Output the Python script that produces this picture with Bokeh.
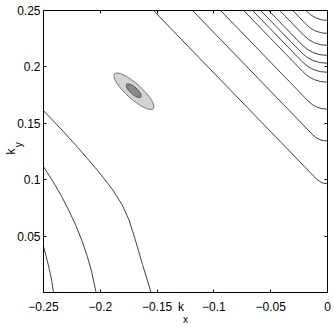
from bokeh.plotting import figure
from bokeh.models import Range1d, FixedTicker, LinearAxis
from bokeh.embed import file_html
from bokeh.resources import INLINE

# ---------------- data ----------------
x_ticks = [-0.25, -0.2, -0.15, -0.1, -0.05, 0.0]
x_tick_labels = ["\u22120.25", "\u22120.2", "\u22120.15", "\u22120.1", "\u22120.05", "0"]
y_ticks = [0.05, 0.1, 0.15, 0.2, 0.25]
y_tick_labels = ["0.05", "0.1", "0.15", "0.2", "0.25"]

# axis label texts and where they sit along their axes
x_label_main, x_label_sub = "k", "x"
y_label_main, y_label_sub = "k", "y"
x_label_pos = -0.1290
y_label_sub_pos = 0.1310

# contour lines in the lower-left part
left_xs = [
    [-0.25, -0.2476, -0.2450, -0.2428, -0.2412],
    [-0.25, -0.2416, -0.2340, -0.2272, -0.2212, -0.2159, -0.2115, -0.2077, -0.2037],
    [-0.25, -0.2337, -0.2178, -0.2028, -0.1890, -0.1808, -0.1748, -0.1692, -0.1628, -0.1553],
]
left_ys = [
    [0.0409, 0.0318, 0.0212, 0.0106, 0.0],
    [0.1116, 0.0983, 0.0851, 0.0718, 0.0586, 0.0453, 0.0321, 0.0188, 0.0],
    [0.1612, 0.1440, 0.1263, 0.1087, 0.0910, 0.0777, 0.0645, 0.0468, 0.0247, 0.0],
]

# contour lines in the upper-right part: where each leaves the top edge,
# where its straight run starts to bend, the bend corner, and where it meets the right edge
right_top_x = [-0.1532, -0.1188, -0.0941, -0.0738, -0.0659, -0.0588, -0.0518, -0.0421, -0.0306, -0.0191]
right_bend_x = [-0.0095, -0.0130, -0.0172, -0.0216, -0.0226, -0.0235, -0.0230, -0.0209, -0.0188, -0.0191]
right_bend_y = [0.1004, 0.1398, 0.1699, 0.1957, 0.2049, 0.2132, 0.2201, 0.2280, 0.2377, 0.25]
right_corner_x = [-0.0056, -0.0077, -0.0101, -0.0128, -0.0133, -0.0139, -0.0136, -0.0124, -0.0111, -0.0107]
right_edge_y = [0.0963, 0.1343, 0.1625, 0.1864, 0.1952, 0.2032, 0.2102, 0.2191, 0.2297, 0.2412]

# shaded peak region (outer and inner level)
peak_x = [-0.1704, -0.1706]
peak_y = [0.1784, 0.1789]
peak_w = [0.0459, 0.0168]
peak_h = [0.0133, 0.0062]
peak_angle = [-0.73, -0.73]

# ---------------- figure ----------------
FONT = "Liberation Sans"

p = figure(width=334, height=327,
           x_range=Range1d(x_ticks[0], x_ticks[-1]), y_range=Range1d(0.0, y_ticks[-1]),
           output_backend="svg", toolbar_location=None,
           min_border_left=43, min_border_right=7, min_border_top=10, min_border_bottom=34,
           background_fill_color="white", border_fill_color="white")
p.grid.visible = False
p.outline_line_color = "black"
p.outline_line_width = 1


def ticks_in(ax):
    ax.major_tick_in = 3
    ax.major_tick_out = 0
    ax.minor_tick_line_color = None
    ax.axis_line_color = "black"
    ax.major_tick_line_color = "black"


def no_labels(ax):
    ax.major_label_text_font_size = "0px"
    ax.major_label_text_color = None
    ax.major_label_standoff = 0


def label_style(ax, size="12px"):
    ax.major_label_text_font = FONT
    ax.major_label_text_font_size = size
    ax.major_label_text_color = "black"


def axis_label_style(ax, text, size):
    ax.axis_label = text
    ax.axis_label_text_font = FONT
    ax.axis_label_text_font_size = size
    ax.axis_label_text_font_style = "normal"
    ax.axis_label_text_color = "black"


# bottom axis: ticks, numbers and the subscript "x" as its label
xa = p.xaxis[0]
xa.ticker = FixedTicker(ticks=x_ticks)
xa.major_label_overrides = dict(zip(x_ticks, x_tick_labels))
ticks_in(xa)
label_style(xa)
xa.major_label_standoff = 9
axis_label_style(xa, x_label_sub, "10px")
xa.axis_label_standoff = 0

# bottom: "k" pulled up to the level of the numbers
xk = LinearAxis(ticker=FixedTicker(ticks=[x_label_pos]),
                major_label_overrides={x_label_pos: x_label_main})
label_style(xk)
xk.major_tick_line_color = None
xk.minor_tick_line_color = None
xk.axis_line_color = None
xk.major_label_standoff = -34
p.add_layout(xk, "below")

# left axis: ticks and numbers
ya = p.yaxis[0]
ya.ticker = FixedTicker(ticks=y_ticks)
ya.major_label_overrides = dict(zip(y_ticks, y_tick_labels))
ticks_in(ya)
label_style(ya)
ya.major_label_standoff = 3

# left: subscript "y" next to the numbers, "k" beyond it
yk = LinearAxis(ticker=FixedTicker(ticks=[y_label_sub_pos]),
                major_label_overrides={y_label_sub_pos: y_label_sub})
label_style(yk, "10px")
yk.major_label_orientation = "vertical"
yk.major_tick_line_color = None
yk.minor_tick_line_color = None
yk.axis_line_color = None
yk.major_label_standoff = -16
axis_label_style(yk, y_label_main, "12px")
yk.axis_label_standoff = -7
p.add_layout(yk, "left")

# tick marks on the top and right sides of the box
top_ax = LinearAxis(ticker=FixedTicker(ticks=x_ticks))
ticks_in(top_ax)
no_labels(top_ax)
p.add_layout(top_ax, "above")
right_ax = LinearAxis(ticker=FixedTicker(ticks=[0.0] + y_ticks))
ticks_in(right_ax)
no_labels(right_ax)
p.add_layout(right_ax, "right")

LINE_COLOR = "#2b2b2b"
LW = 0.9

p.multi_line(xs=left_xs, ys=left_ys, line_color=LINE_COLOR, line_width=LW)
p.segment(x0=right_top_x, y0=[y_ticks[-1]] * len(right_top_x), x1=right_bend_x, y1=right_bend_y,
          line_color=LINE_COLOR, line_width=LW)
p.quadratic(x0=right_bend_x, y0=right_bend_y, x1=[x_ticks[-1]] * len(right_edge_y), y1=right_edge_y,
            cx=right_corner_x, cy=right_edge_y, line_color=LINE_COLOR, line_width=LW)

p.ellipse(x=peak_x[:1], y=peak_y[:1], width=peak_w[:1], height=peak_h[:1], angle=peak_angle[:1],
          fill_color="#d3d3d3", line_color="#777777", line_width=1)
p.ellipse(x=peak_x[1:], y=peak_y[1:], width=peak_w[1:], height=peak_h[1:], angle=peak_angle[1:],
          fill_color="#8a8a8a", line_color="#555555", line_width=1)

open("out.html", "w").write(file_html(p, INLINE))
